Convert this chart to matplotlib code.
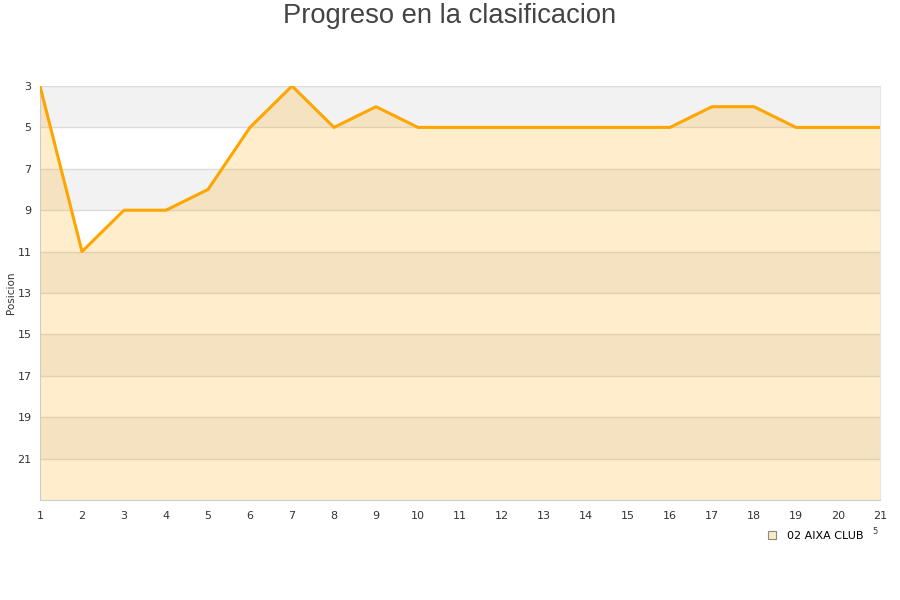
import matplotlib
matplotlib.use("Agg")
import matplotlib.pyplot as plt
from matplotlib.lines import Line2D

jornadas = list(range(1, 22))
posiciones = [3, 11, 9, 9, 8, 5, 3, 5, 4, 5, 5, 5, 5, 5, 5, 5, 4, 4, 5, 5, 5]
y_ticks = [3, 5, 7, 9, 11, 13, 15, 17, 19, 21]
equipo = "02 AIXA CLUB"
titulo = "Progreso en la clasificacion"
y_label = "Posicion"

fig = plt.figure(figsize=(9, 6), dpi=100)
ax = fig.add_axes([40/900, 1-500/600, 840/900, 414/600])

ymin, ymax = 3, 23
# alternating bands
for i, lo in enumerate(range(ymin, ymax, 2)):
    if i % 2 == 0:
        ax.axhspan(lo, lo + 2, color="#f2f2f2", zorder=0, lw=0)
for t in y_ticks:
    ax.axhline(t, color="#dcdcdc", lw=1, zorder=1)

ax.fill_between(jornadas, posiciones, ymax, color="#ffa500", alpha=0.2, lw=0, zorder=2)
ax.plot(jornadas, posiciones, color="#ffa500", lw=2.2, zorder=3)

ax.set_xlim(1, 21)
ax.set_ylim(ymax, ymin)
ax.set_xticks(jornadas)
ax.set_yticks(y_ticks)
ax.tick_params(axis="both", length=0, labelsize=8, colors="#333333", pad=8)
ax.tick_params(axis="y", pad=6)
for s in ["top", "right"]:
    ax.spines[s].set_visible(False)
for s in ["left", "bottom"]:
    ax.spines[s].set_color("#cccccc")
ax.spines["right"].set_visible(True)
ax.spines["right"].set_color("#e6e6e6")
fig.text(11/900, 1-293/600, y_label, fontsize=7.5, color="#333333",
         rotation=90, ha="center", va="center")

fig.text(0.5, 1-16/600, titulo, ha="center", va="center", fontsize=19.7,
         color="#444444", family="Liberation Sans")

handle = Line2D([], [], marker="s", ls="none", markersize=6,
                markerfacecolor="#fde9c4", markeredgecolor="#888888", markeredgewidth=0.8)
fig.legend([handle], [equipo], loc="center", bbox_to_anchor=(812/900, 1-536/600),
           frameon=False, fontsize=8, handletextpad=0.3, borderpad=0)
fig.text(875/900, 1-532/600, "5", fontsize=6, color="#333333", ha="center", va="center")

fig.savefig("out.png", dpi=100, facecolor="white")
